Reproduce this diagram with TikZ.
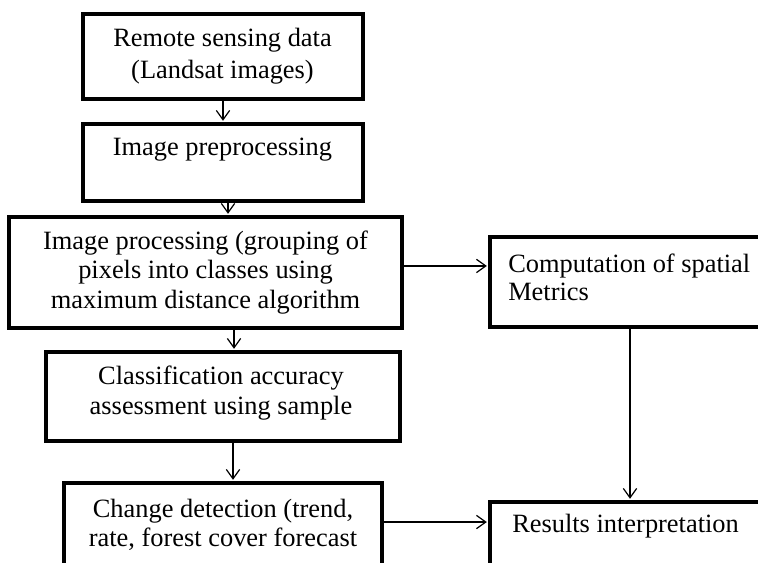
\documentclass[tikz,border=0pt]{standalone}
\usepackage{fontspec}
\setmainfont{Liberation Serif}
\usetikzlibrary{arrows.meta}
\tikzset{
  box/.style={draw=black, line width=2.4pt, rectangle, inner sep=0pt, fill=white},
  txt/.style={inner sep=0pt, align=center, font=\fontsize{19.8pt}{22.2pt}\selectfont},
  arr/.style={draw=black, line width=0.9pt, -{Straight Barb[length=7pt,width=10pt,line width=0.9pt]}, shorten >=1.2pt}
}
\begin{document}
\begin{tikzpicture}[x=0.75pt,y=-0.75pt]
\clip (0,0) rectangle (758,563);
\fill[white] (0,0) rectangle (758,563);
% boxes
\node[box, minimum width=280*0.75pt, minimum height=85*0.75pt] (b1) at (223,56.5) {};
\node[box, minimum width=280*0.75pt, minimum height=77*0.75pt] (b2) at (223,162.5) {};
\node[box, minimum width=393*0.75pt, minimum height=111*0.75pt] (b3) at (205.5,272.5) {};
\node[box, minimum width=354*0.75pt, minimum height=89*0.75pt] (b4) at (223,396.5) {};
\node[box, minimum width=318*0.75pt, minimum height=117*0.75pt] (b5) at (223,541.5) {};
\node[box, minimum width=300*0.75pt, minimum height=90*0.75pt] (c) at (640,282) {};
\node[box, minimum width=300*0.75pt, minimum height=98*0.75pt] (r) at (640,551) {};
% texts
\node[txt, font=\fontsize{19.8pt}{24pt}\selectfont] (t1) at (222.5,56) {Remote sensing data\\(Landsat images)};
\node[txt] (t2) at (222.5,150) {Image preprocessing};
\node[txt] (t3) at (205.5,272.5) {Image processing (grouping of\\pixels into classes using\\maximum distance algorithm};
\node[txt] (t4) at (221,393) {Classification accuracy\\assessment using sample};
\node[txt] (t5) at (223,525) {Change detection (trend,\\rate, forest cover forecast};
\node[txt, align=left, anchor=west, font=\fontsize{19.8pt}{21pt}\selectfont] (t6) at (508,277) {Computation of spatial\\Metrics};
\node[txt, anchor=west] (t7) at (512,526) {Results interpretation};
% connectors
\coordinate (a2) at ([xshift=3.75pt]b2.south);
\coordinate (a3) at ([xshift=21.4pt]b3.south);
\coordinate (a4) at ([xshift=7.5pt]b4.south);
\coordinate (a5) at ([yshift=4.9pt]b3.east);
\coordinate (a6) at ([xshift=-7.5pt]c.south);
\coordinate (a7) at ([yshift=14.6pt]b5.east);
\draw[arr] (b1.south) -- (b2.north);
\draw[arr] (a2) -- (a2 |- b3.north);
\draw[arr] (a3) -- (a3 |- b4.north);
\draw[arr] (a4) -- (a4 |- b5.north);
\draw[arr] (a5) -- (a5 -| c.west);
\draw[arr] (a6) -- (a6 |- r.north);
\draw[arr] (a7) -- (a7 -| r.west);
\end{tikzpicture}
\end{document}
